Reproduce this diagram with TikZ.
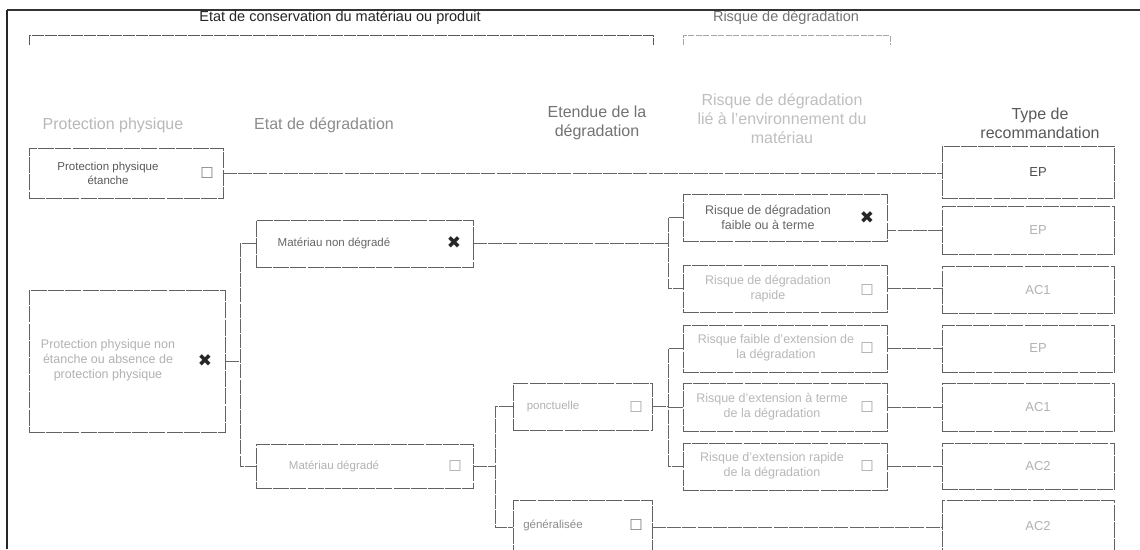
\documentclass[tikz,border=0pt]{standalone}
\usepackage{fontspec}
\setmainfont{Liberation Sans}
\newfontfamily\symf{DejaVu Sans}
\begin{document}
\begin{tikzpicture}[x=1pt,y=-1pt,
  box/.style={draw=black!62, line width=1pt, dash pattern=on 16pt off 1.2pt, inner sep=0pt, outer sep=0pt, anchor=north west},
  conn/.style={draw=black!60, line width=0.9pt, dash pattern=on 14pt off 1.2pt},
  btxt/.style={align=center, font=\fontsize{11.5}{14}\selectfont, inner sep=0pt},
  ctxt/.style={align=center, font=\fontsize{12.5}{15}\selectfont, inner sep=0pt},
  hdr/.style={align=center, font=\fontsize{16}{19}\selectfont, inner sep=0pt},
  cb/.style={font=\symf\fontsize{15}{15}\selectfont, text=black!35, inner sep=0pt},
  xb/.style={font=\symf\fontsize{17}{17}\selectfont, text=black!85, inner sep=0pt},
  rec/.style={font=\fontsize{13}{15}\selectfont, inner sep=0pt}]
\useasboundingbox (0,0) rectangle (1140,549);
\fill[white] (0,0) rectangle (1140,549);
% frame
\coordinate (tl) at (7,10);
\coordinate (tr) at (1140,10);
\coordinate (bl) at (7,549);
\draw[black!80, line width=1.4pt] (tl) -- (tr);
\draw[black!85, line width=2.2pt] (tl) -- (bl);
% top headers
\node[font=\fontsize{14.5}{17}\selectfont, text=black!85, inner sep=0pt] (h1) at (340,18) {Etat de conservation du matériau ou produit};
\node[font=\fontsize{14.5}{17}\selectfont, text=black!55, inner sep=0pt] (h2) at (786,18) {Risque de dégradation};
\coordinate (b1a) at (29,45); \coordinate (b1b) at (653,45);
\coordinate (b2a) at (683,45); \coordinate (b2b) at (890,45);
\draw[black!65, line width=0.8pt, dash pattern=on 12pt off 1pt] (b1a) -- ++(0,-10) -| (b1b);
\draw[black!35, line width=0.6pt, dash pattern=on 6pt off 1.5pt] (b2a) -- ++(0,-10) -| (b2b);
% column headers
\node[hdr, text=black!28] (c1) at (113,125) {Protection physique};
\node[hdr, text=black!45] (c2) at (324,125) {Etat de dégradation};
\node[hdr, text=black!55] (c3) at (597,123) {Etendue de la\\dégradation};
\node[hdr, text=black!25] (c4) at (782,119) {Risque de dégradation\\lié à l'environnement du\\matériau};
\node[hdr, text=black!65] (c5) at (1040,123) {Type de\\recommandation};
% column 1
\node[box, minimum width=194pt, minimum height=50pt] (ppe) at (29,148) {};
\node[btxt, text=black!65] (ppet) at (108,173) {Protection physique\\étanche};
\node[cb, text=black!50] (ppec) at (207,173) {☐};
\node[box, minimum width=196pt, minimum height=142pt] (ppn) at (29,290) {};
\node[ctxt, text=black!30] (ppnt) at (108,360) {Protection physique non\\étanche ou absence de\\protection physique};
\node[xb] (ppnx) at (205,361) {✖};
% column 2
\node[box, minimum width=217pt, minimum height=47pt] (mnd) at (256,220) {};
\node[btxt, text=black!60] (mndt) at (334,243) {Matériau non dégradé};
\node[xb] (mndx) at (454,243) {✖};
\node[box, minimum width=217pt, minimum height=44pt] (md) at (256,444) {};
\node[btxt, text=black!30] (mdt) at (334,466) {Matériau dégradé};
\node[cb] (mdc) at (455,466) {☐};
% column 3
\node[box, minimum width=139pt, minimum height=47pt] (ponc) at (513,383) {};
\node[btxt, text=black!30] (ponct) at (553,407) {ponctuelle};
\node[cb] (poncc) at (636,407) {☐};
\node[box, minimum width=139pt, minimum height=55pt] (gen) at (513,500) {};
\node[btxt, text=black!45] (gent) at (553,525) {généralisée};
\node[cb, text=black!50] (genc) at (636,525) {☐};
% column 4
\node[box, minimum width=204pt, minimum height=47pt] (ra) at (683,194) {};
\node[ctxt, text=black!60] (rat) at (768,217) {Risque de dégradation\\faible ou à terme};
\node[xb] (rax) at (867,218) {✖};
\node[box, minimum width=204pt, minimum height=47pt] (rb) at (683,265) {};
\node[ctxt, text=black!28] (rbt) at (768,289) {Risque de dégradation\\rapide};
\node[cb] (rbc) at (867,290) {☐};
\node[box, minimum width=204pt, minimum height=47pt] (rc) at (683,325) {};
\node[ctxt, text=black!28] (rct) at (776,348) {Risque faible d'extension de\\la dégradation};
\node[cb] (rcc) at (867,348) {☐};
\node[box, minimum width=204pt, minimum height=48pt] (rd) at (683,383) {};
\node[ctxt, text=black!28] (rdt) at (772,407) {Risque d'extension à terme\\de la dégradation};
\node[cb] (rdc) at (867,407) {☐};
\node[box, minimum width=204pt, minimum height=47pt] (re) at (683,443) {};
\node[ctxt, text=black!28] (ret) at (772,466) {Risque d'extension rapide\\de la dégradation};
\node[cb] (rec) at (867,466) {☐};
% column 5
\node[box, minimum width=172pt, minimum height=52pt] (r1) at (942,146) {};
\node[rec, text=black!70] (r1t) at (1038,172) {EP};
\node[box, minimum width=172pt, minimum height=48pt] (r2) at (942,206) {};
\node[rec, text=black!30] (r2t) at (1038,230) {EP};
\node[box, minimum width=172pt, minimum height=47pt] (r3) at (942,266) {};
\node[rec, text=black!30] (r3t) at (1038,290) {AC1};
\node[box, minimum width=172pt, minimum height=47pt] (r4) at (942,325) {};
\node[rec, text=black!30] (r4t) at (1038,348) {EP};
\node[box, minimum width=172pt, minimum height=48pt] (r5) at (942,383) {};
\node[rec, text=black!30] (r5t) at (1038,407) {AC1};
\node[box, minimum width=172pt, minimum height=46pt] (r6) at (942,443) {};
\node[rec, text=black!30] (r6t) at (1038,466) {AC2};
\node[box, minimum width=172pt, minimum height=55pt] (r7) at (942,500) {};
\node[rec, text=black!30] (r7t) at (1038,526) {AC2};
% junctions
\coordinate (j1) at (240,0);
\coordinate (j2) at (668,0);
\coordinate (j3) at (495,0);
% connectors
\draw[conn] (ppe.east) -- (ppe.east -| r1.west);
\draw[conn] (ppn.east) -- (ppn.east -| j1);
\draw[conn] (mnd.west) -- (mnd.west -| j1) |- (md.west);
\draw[conn] (mnd.east) -- (mnd.east -| j2);
\draw[conn] (ra.west) -- (ra.west -| j2) |- (rb.west);
\draw[conn] (md.east) -- (md.east -| j3);
\draw[conn] (ponc.west) -- (ponc.west -| j3) |- (gen.west);
\draw[conn] (ponc.east) -- (ponc.east -| j2);
\draw[conn] (rc.west) -- (rc.west -| j2) |- (re.west);
\draw[conn] (rd.west) -- (rd.west -| j2);
\draw[conn] (r2.west) -- (r2.west -| ra.east);
\draw[conn] (rb.east) -- (rb.east -| r3.west);
\draw[conn] (rc.east) -- (rc.east -| r4.west);
\draw[conn] (rd.east) -- (rd.east -| r5.west);
\draw[conn] (re.east) -- (re.east -| r6.west);
\draw[conn] (gen.east) -- (gen.east -| r7.west);
\end{tikzpicture}
\end{document}
